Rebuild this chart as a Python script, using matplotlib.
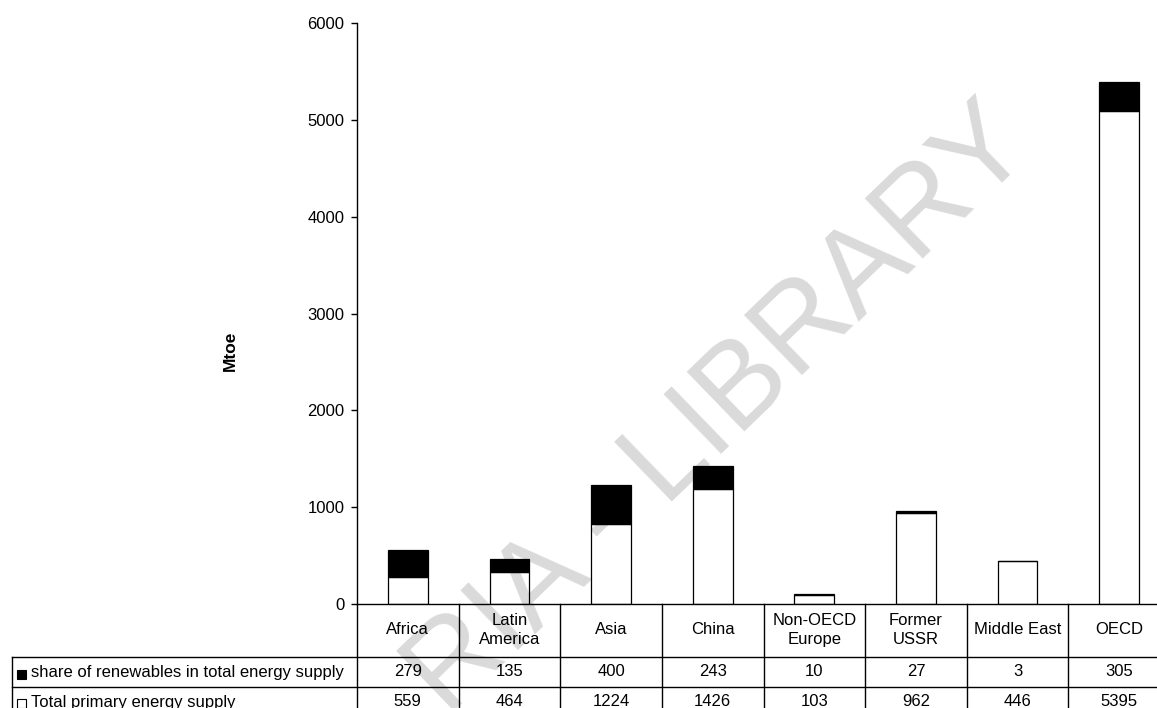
import numpy as np
import matplotlib
matplotlib.use("Agg")
import matplotlib.pyplot as plt
from matplotlib import transforms
from matplotlib.lines import Line2D
from matplotlib.patches import Rectangle

# Datos por región (Mtoe)
regiones = ["Africa", "Latin\nAmerica", "Asia", "China", "Non-OECD\nEurope",
            "Former\nUSSR", "Middle East", "OECD"]
renovables = [279, 135, 400, 243, 10, 27, 3, 305]
total = [559, 464, 1224, 1426, 103, 962, 446, 5395]
fila_renov = "share of renewables in total energy supply"
fila_total = "Total primary energy supply"
yticks = [0, 1000, 2000, 3000, 4000, 5000, 6000]

plt.rcParams["font.family"] = ["Liberation Sans", "DejaVu Sans"]

W, H = 1157, 708
fig = plt.figure(figsize=(W / 100, H / 100), dpi=100)


def fx(p):
    return p / W


def fy(p):
    return 1 - p / H


ax = fig.add_axes([fx(357), fy(604), fx(1170) - fx(357), fy(23) - fy(604)])

x = np.arange(len(regiones))
renov = np.array(renovables)
tot = np.array(total)
base = tot - renov

ax.bar(x, base, width=0.39, color="white", edgecolor="black", linewidth=0.9)
ax.bar(x, renov, bottom=base, width=0.39, color="black", edgecolor="black", linewidth=0.9)

ax.set_xlim(-0.5, len(regiones) - 0.5)
ax.set_ylim(0, 6000)
ax.set_yticks(yticks)
ax.set_xticks([])
ax.tick_params(axis="y", direction="out", length=4, width=1, pad=5, labelsize=12)
for s in ["top", "right"]:
    ax.spines[s].set_visible(False)
for s in ["left", "bottom"]:
    ax.spines[s].set_color("black")
    ax.spines[s].set_linewidth(1)

fig.text(fx(230), fy(351), "Mtoe", rotation=90, fontsize=12.5, fontweight="bold",
         ha="center", va="center")

# Tabla de datos bajo el gráfico
tr = transforms.blended_transform_factory(ax.transData, fig.transFigure)
lc = "black"
for i in range(len(regiones) + 1):
    fig.add_artist(Line2D([i - 0.5, i - 0.5], [fy(604), 0], transform=tr, color=lc, lw=1))
for yp in [657, 687]:
    fig.add_artist(Line2D([fx(12), 1], [fy(yp), fy(yp)], transform=fig.transFigure, color=lc, lw=1))
fig.add_artist(Line2D([fx(12), fx(12)], [fy(657), 0], transform=fig.transFigure, color=lc, lw=1))

for i, nombre in enumerate(regiones):
    fig.text(i, fy(630), nombre, transform=tr, ha="center", va="center", fontsize=12,
             linespacing=1.3)
    fig.text(i, fy(672), str(renovables[i]), transform=tr, ha="center", va="center", fontsize=12)
    fig.text(i, fy(702), str(total[i]), transform=tr, ha="center", va="center", fontsize=12)

# Claves de leyenda en la primera columna
fig.add_artist(Rectangle((fx(17), fy(679)), fx(9), fy(670) - fy(679), transform=fig.transFigure,
                         facecolor="black", edgecolor="black", lw=0.8))
fig.add_artist(Rectangle((fx(17), fy(708)), fx(9), fy(699) - fy(708), transform=fig.transFigure,
                         facecolor="white", edgecolor="black", lw=0.8))
fig.text(fx(31), fy(672), fila_renov, ha="left", va="center", fontsize=12)
fig.text(fx(31), fy(702), fila_total, ha="left", va="center", fontsize=12)

# Marca de agua
fig.text(fx(720), fy(412), "RIA - LIBRARY", rotation=44, rotation_mode="anchor",
         ha="center", va="center", fontsize=87, color="black", alpha=0.15, zorder=10)

fig.savefig("out.png", dpi=100)
